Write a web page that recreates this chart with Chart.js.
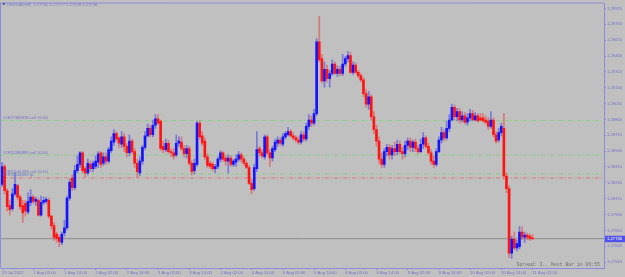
<!DOCTYPE html>
<html>
<head>
<meta charset="utf-8">
<script src="https://cdn.jsdelivr.net/npm/chart.js@4.4.1/dist/chart.umd.min.js"></script>
<style>
html, body { margin: 0; padding: 0; background: #c0c0c0; }
canvas { display: block; }
</style>
</head>
<body>
<canvas id="myChart" width="625" height="277"></canvas>
<script>
// USDCAD H1, 29 Jul 2022 14:00 .. 11 Aug 2022 02:00
const symbol = "USDCAD,H1";

const tickIndex = [0, 12, 24, 36, 48, 60, 72, 84, 96, 108, 120, 132, 144, 156, 168, 180, 192, 204];
const tickLabels = ["29 Jul 2022", "1 Aug 02:00", "1 Aug 14:00", "2 Aug 02:00", "2 Aug 14:00",
  "3 Aug 02:00", "3 Aug 14:00", "4 Aug 02:00", "4 Aug 14:00", "5 Aug 02:00", "5 Aug 14:00",
  "8 Aug 02:00", "8 Aug 14:00", "9 Aug 02:00", "9 Aug 14:00", "10 Aug 02:00", "10 Aug 14:00", "11 Aug 02:00"];

const priceTicks = [1.29915, 1.29765, 1.29615, 1.29465, 1.29315, 1.29165, 1.29015, 1.28865, 1.28715,
  1.28565, 1.28415, 1.28265, 1.28115, 1.27965, 1.27815, 1.27665, 1.27515];

const open = [
  1.2825, 1.2842, 1.2819, 1.2805, 1.2802, 1.2816, 1.2824, 1.2813, 1.2805, 1.2807,
  1.2799, 1.2808, 1.2813, 1.2809, 1.2810, 1.2796, 1.2808, 1.2809, 1.2810, 1.2795,
  1.2786, 1.2778, 1.2775, 1.2770, 1.2779, 1.2784, 1.2812, 1.2831, 1.2822, 1.2838,
  1.2844, 1.2855, 1.2840, 1.2836, 1.2844, 1.2840, 1.2842, 1.2846, 1.2855, 1.2845,
  1.2851, 1.2847, 1.2857, 1.2865, 1.2873, 1.2869, 1.2863, 1.2870, 1.2861, 1.2855,
  1.2866, 1.2856, 1.2845, 1.2836, 1.2847, 1.2860, 1.2871, 1.2878, 1.2872, 1.2881,
  1.2887, 1.2885, 1.2861, 1.2858, 1.2864, 1.2856, 1.2855, 1.2853, 1.2864, 1.2865,
  1.2859, 1.2854, 1.2859, 1.2845, 1.2838, 1.2844, 1.2883, 1.2871, 1.2866, 1.2851,
  1.2845, 1.2844, 1.2840, 1.2842, 1.2849, 1.2855, 1.2850, 1.2847, 1.2850, 1.2844,
  1.2846, 1.2849, 1.2853, 1.2849, 1.2845, 1.2841, 1.2826, 1.2821, 1.2840, 1.2859,
  1.2855, 1.2851, 1.2870, 1.2855, 1.2850, 1.2858, 1.2864, 1.2867, 1.2863, 1.2870,
  1.2872, 1.2875, 1.2871, 1.2869, 1.2867, 1.2865, 1.2872, 1.2868, 1.2880, 1.2886,
  1.2883, 1.2892, 1.2960, 1.2944, 1.2923, 1.2934, 1.2925, 1.2930, 1.2939, 1.2930,
  1.2934, 1.2930, 1.2939, 1.2944, 1.2947, 1.2931, 1.2938, 1.2931, 1.2928, 1.2924,
  1.2911, 1.2901, 1.2908, 1.2889, 1.2877, 1.2866, 1.2849, 1.2844, 1.2856, 1.2860,
  1.2853, 1.2859, 1.2856, 1.2863, 1.2856, 1.2854, 1.2862, 1.2866, 1.2860, 1.2865,
  1.2859, 1.2856, 1.2863, 1.2869, 1.2861, 1.2855, 1.2847, 1.2844, 1.2856, 1.2867,
  1.2874, 1.2869, 1.2878, 1.2886, 1.2898, 1.2889, 1.2894, 1.2886, 1.2890, 1.2884,
  1.2888, 1.2892, 1.2886, 1.2890, 1.2888, 1.2888, 1.2886, 1.2885, 1.2880, 1.2886,
  1.2872, 1.2867, 1.2874, 1.2878, 1.2833, 1.2821, 1.2760, 1.2773, 1.2765, 1.2766,
  1.2780, 1.2775, 1.2777, 1.2776, 1.27742
];
const high = [
  1.2846, 1.2844, 1.2821, 1.2810, 1.2821, 1.2836, 1.2825, 1.2815, 1.2810, 1.2810,
  1.2817, 1.2820, 1.2815, 1.2813, 1.2812, 1.2814, 1.2813, 1.2813, 1.2812, 1.2796,
  1.2789, 1.2780, 1.2777, 1.2780, 1.2791, 1.2814, 1.2830, 1.2834, 1.2843, 1.2852,
  1.2856, 1.2856, 1.2842, 1.2849, 1.2847, 1.2847, 1.2852, 1.2856, 1.2856, 1.2855,
  1.2855, 1.2860, 1.2870, 1.2877, 1.2875, 1.2870, 1.2875, 1.2873, 1.2864, 1.2872,
  1.2868, 1.2859, 1.2849, 1.2851, 1.2862, 1.2875, 1.2882, 1.2881, 1.2886, 1.2891,
  1.2891, 1.2886, 1.2866, 1.2868, 1.2867, 1.2859, 1.2859, 1.2872, 1.2870, 1.2870,
  1.2862, 1.2862, 1.2861, 1.2847, 1.2849, 1.2885, 1.2885, 1.2875, 1.2869, 1.2854,
  1.2847, 1.2846, 1.2844, 1.2851, 1.2857, 1.2856, 1.2852, 1.2853, 1.2852, 1.2849,
  1.2853, 1.2856, 1.2855, 1.2851, 1.2847, 1.2843, 1.2830, 1.2844, 1.2875, 1.2861,
  1.2858, 1.2872, 1.2872, 1.2858, 1.2861, 1.2868, 1.2870, 1.2869, 1.2873, 1.2875,
  1.2879, 1.2877, 1.2874, 1.2871, 1.2870, 1.2875, 1.2875, 1.2883, 1.2891, 1.2890,
  1.2896, 1.2963, 1.2984, 1.2948, 1.2941, 1.2938, 1.2933, 1.2943, 1.2941, 1.2937,
  1.2937, 1.2948, 1.2946, 1.2951, 1.2950, 1.2941, 1.2940, 1.2933, 1.2930, 1.2926,
  1.2915, 1.2913, 1.2910, 1.2894, 1.2881, 1.2870, 1.2855, 1.2859, 1.2863, 1.2863,
  1.2862, 1.2865, 1.2867, 1.2866, 1.2860, 1.2866, 1.2869, 1.2869, 1.2867, 1.2868,
  1.2862, 1.2868, 1.2874, 1.2871, 1.2864, 1.2858, 1.2852, 1.2859, 1.2870, 1.2879,
  1.2877, 1.2885, 1.2891, 1.2901, 1.2900, 1.2897, 1.2897, 1.2894, 1.2893, 1.2892,
  1.2896, 1.2895, 1.2893, 1.2892, 1.2892, 1.2892, 1.2890, 1.2888, 1.2894, 1.2888,
  1.2875, 1.2878, 1.2883, 1.2892, 1.2836, 1.2824, 1.2776, 1.2780, 1.2772, 1.2785,
  1.2785, 1.2780, 1.2779, 1.2778, 1.27777
];
const low = [
  1.2823, 1.2816, 1.2800, 1.2796, 1.2800, 1.2814, 1.2810, 1.2801, 1.2789, 1.2795,
  1.2797, 1.2805, 1.2807, 1.2805, 1.2795, 1.2795, 1.2806, 1.2807, 1.2793, 1.2783,
  1.2772, 1.2770, 1.2766, 1.2768, 1.2776, 1.2782, 1.2810, 1.2819, 1.2820, 1.2836,
  1.2841, 1.2836, 1.2832, 1.2834, 1.2837, 1.2837, 1.2840, 1.2841, 1.2841, 1.2843,
  1.2844, 1.2845, 1.2855, 1.2862, 1.2866, 1.2860, 1.2860, 1.2856, 1.2851, 1.2852,
  1.2854, 1.2841, 1.2832, 1.2833, 1.2844, 1.2858, 1.2870, 1.2870, 1.2870, 1.2878,
  1.2882, 1.2857, 1.2855, 1.2856, 1.2854, 1.2851, 1.2849, 1.2851, 1.2861, 1.2857,
  1.2851, 1.2850, 1.2843, 1.2834, 1.2835, 1.2842, 1.2868, 1.2862, 1.2849, 1.2841,
  1.2840, 1.2838, 1.2836, 1.2840, 1.2846, 1.2847, 1.2843, 1.2836, 1.2842, 1.2842,
  1.2842, 1.2847, 1.2846, 1.2843, 1.2840, 1.2825, 1.2816, 1.2819, 1.2837, 1.2852,
  1.2850, 1.2849, 1.2853, 1.2842, 1.2847, 1.2856, 1.2861, 1.2862, 1.2861, 1.2868,
  1.2871, 1.2870, 1.2867, 1.2865, 1.2863, 1.2863, 1.2866, 1.2866, 1.2877, 1.2880,
  1.2881, 1.2890, 1.2941, 1.2921, 1.2917, 1.2922, 1.2917, 1.2928, 1.2929, 1.2927,
  1.2928, 1.2928, 1.2937, 1.2941, 1.2930, 1.2929, 1.2930, 1.2926, 1.2922, 1.2908,
  1.2898, 1.2896, 1.2886, 1.2873, 1.2861, 1.2845, 1.2841, 1.2841, 1.2852, 1.2849,
  1.2849, 1.2852, 1.2853, 1.2854, 1.2849, 1.2851, 1.2858, 1.2856, 1.2856, 1.2856,
  1.2854, 1.2855, 1.2859, 1.2859, 1.2853, 1.2844, 1.2841, 1.2842, 1.2855, 1.2864,
  1.2866, 1.2867, 1.2875, 1.2885, 1.2886, 1.2885, 1.2883, 1.2884, 1.2882, 1.2881,
  1.2885, 1.2885, 1.2885, 1.2884, 1.2885, 1.2884, 1.2882, 1.2877, 1.2878, 1.2870,
  1.2864, 1.2865, 1.2871, 1.2830, 1.2817, 1.2756, 1.2755, 1.2763, 1.2762, 1.2764,
  1.2773, 1.2770, 1.2773, 1.2772, 1.27728
];
const close = [
  1.2842, 1.2819, 1.2804, 1.2801, 1.2816, 1.2825, 1.2813, 1.2804, 1.2798, 1.2800,
  1.2809, 1.2813, 1.2809, 1.2811, 1.2796, 1.2808, 1.2810, 1.2811, 1.2795, 1.2786,
  1.2775, 1.2774, 1.2771, 1.2778, 1.2784, 1.2812, 1.2827, 1.2822, 1.2838, 1.2844,
  1.2855, 1.2838, 1.2836, 1.2845, 1.2840, 1.2845, 1.2847, 1.2854, 1.2844, 1.2851,
  1.2847, 1.2858, 1.2866, 1.2873, 1.2868, 1.2864, 1.2870, 1.2861, 1.2855, 1.2866,
  1.2856, 1.2845, 1.2837, 1.2847, 1.2860, 1.2871, 1.2878, 1.2872, 1.2881, 1.2887,
  1.2883, 1.2859, 1.2858, 1.2864, 1.2856, 1.2855, 1.2852, 1.2864, 1.2866, 1.2859,
  1.2854, 1.2859, 1.2845, 1.2837, 1.2845, 1.2883, 1.2870, 1.2864, 1.2851, 1.2843,
  1.2842, 1.2840, 1.2842, 1.2849, 1.2855, 1.2849, 1.2847, 1.2850, 1.2844, 1.2847,
  1.2849, 1.2853, 1.2849, 1.2845, 1.2841, 1.2826, 1.2820, 1.2841, 1.2858, 1.2855,
  1.2852, 1.2870, 1.2855, 1.2850, 1.2859, 1.2865, 1.2867, 1.2864, 1.2870, 1.2873,
  1.2875, 1.2871, 1.2869, 1.2867, 1.2865, 1.2872, 1.2868, 1.2880, 1.2886, 1.2883,
  1.2892, 1.2960, 1.2943, 1.2923, 1.2934, 1.2925, 1.2930, 1.2939, 1.2930, 1.2934,
  1.2930, 1.2939, 1.2944, 1.2947, 1.2931, 1.2938, 1.2931, 1.2928, 1.2924, 1.2911,
  1.2901, 1.2908, 1.2889, 1.2877, 1.2866, 1.2849, 1.2844, 1.2856, 1.2860, 1.2853,
  1.2859, 1.2856, 1.2863, 1.2856, 1.2854, 1.2862, 1.2866, 1.2860, 1.2865, 1.2859,
  1.2856, 1.2863, 1.2869, 1.2861, 1.2855, 1.2847, 1.2844, 1.2856, 1.2867, 1.2874,
  1.2869, 1.2878, 1.2886, 1.2898, 1.2889, 1.2894, 1.2886, 1.2890, 1.2884, 1.2888,
  1.2892, 1.2886, 1.2890, 1.2885, 1.2886, 1.2885, 1.2884, 1.2880, 1.2886, 1.2872,
  1.2866, 1.2874, 1.2880, 1.2833, 1.2821, 1.2760, 1.2773, 1.2765, 1.2769, 1.2780,
  1.2775, 1.2777, 1.2775, 1.2774, 1.27736
];

// open orders / levels
const orderPrices = [1.28855, 1.28527, 1.28349, 1.28312];
const orderLabels = ["#2877389618 sell 10.00", "#2870288889 sell 10.00", "#2870144409 sell 10.00", "#2870144409 tp"];
const bid = close[close.length - 1];
const spreadText = "Spread: 3.. Next Bar in 06:55";

// view window
const xMin = -0.385, xMax = 231.5;
const yMin = 1.27459, yMax = 1.29962;

const axisColor = "#8c8cdc";
const textColor = "#7474cc";
const bullColor = "#1414ff";
const bearColor = "#ff1414";

const isUp = (i) => close[i] >= open[i];

const bodies = open.map((o, i) => ({ x: i, y: [o, close[i]] }));
const wicks = open.map((o, i) => ({ x: i, y: [low[i], high[i]] }));

const levelLine = (p, color) => ({
  type: "line",
  data: [{ x: xMin, y: p }, { x: xMax, y: p }],
  borderColor: color,
  borderWidth: 1,
  borderDash: [4, 2, 1, 2],
  pointRadius: 0,
  order: 5,
});

const orderColors = ["#86d086", "#86d086", "#86d086", "#e07676"];

const datasets = [
  {
    type: "bar",
    data: wicks,
    grouped: false,
    barThickness: 1,
    order: 2,
    backgroundColor: (c) => (isUp(c.dataIndex) ? "rgba(30,30,255,0.45)" : "rgba(255,30,30,0.45)"),
  },
  {
    type: "bar",
    data: bodies,
    grouped: false,
    barThickness: 2,
    minBarLength: 1,
    order: 1,
    backgroundColor: (c) => (isUp(c.dataIndex) ? bullColor : bearColor),
  },
  ...orderPrices.map((p, i) => levelLine(p, orderColors[i])),
  {
    type: "line",
    data: [{ x: xMin, y: bid }, { x: xMax, y: bid }],
    borderColor: "#8e8e8e",
    borderWidth: 1,
    pointRadius: 0,
    order: 6,
  },
];

const overlay = {
  id: "overlay",
  afterDraw(chart) {
    const { ctx, chartArea: a, scales } = chart;
    const y = scales.y;
    ctx.save();

    // frame top and left
    ctx.strokeStyle = axisColor;
    ctx.lineWidth = 1;
    ctx.beginPath();
    ctx.moveTo(a.left - 0.5, a.bottom);
    ctx.lineTo(a.left - 0.5, a.top - 0.5);
    ctx.lineTo(a.right, a.top - 0.5);
    ctx.stroke();

    // header
    ctx.fillStyle = "#55559a";
    ctx.beginPath();
    ctx.moveTo(2, 3);
    ctx.lineTo(5.5, 3);
    ctx.lineTo(3.75, 5.5);
    ctx.closePath();
    ctx.fill();
    ctx.font = '4.2px "Liberation Sans"';
    ctx.fillStyle = textColor;
    ctx.textBaseline = "middle";
    ctx.textAlign = "left";
    const hdr = symbol + "  " + [open, high, low, close].map((s) => s[s.length - 1].toFixed(5)).join(" ");
    ctx.fillText(hdr, 7, 4.5);

    // order labels
    ctx.textBaseline = "bottom";
    orderPrices.forEach((p, i) => {
      ctx.fillText(orderLabels[i], a.left + 2, y.getPixelForValue(p) - 0.5);
    });

    // bid box on price axis
    const py = y.getPixelForValue(bid);
    ctx.fillStyle = "#5252ea";
    ctx.fillRect(a.right + 1, py - 3, 21, 6.5);
    ctx.fillStyle = "#ffffff";
    ctx.textBaseline = "middle";
    ctx.fillText(bid.toFixed(5), a.right + 3, py + 0.3);

    // spread info
    ctx.font = '4.8px "Liberation Mono"';
    ctx.fillStyle = "#707070";
    ctx.textAlign = "right";
    ctx.textBaseline = "bottom";
    ctx.fillText(spreadText, a.right - 4, a.bottom - 0.5);

    ctx.restore();
  },
};

new Chart(document.getElementById("myChart"), {
  type: "bar",
  data: { datasets },
  plugins: [overlay],
  options: {
    responsive: false,
    animation: false,
    devicePixelRatio: 1,
    layout: { padding: { top: 1, left: 1, right: 0, bottom: 0 } },
    plugins: { legend: { display: false }, tooltip: { enabled: false } },
    scales: {
      x: {
        type: "linear",
        offset: false,
        min: xMin,
        max: xMax,
        afterBuildTicks: (s) => { s.ticks = tickIndex.map((v) => ({ value: v })); },
        afterFit: (s) => { s.height = 9; },
        grid: { offset: false, drawOnChartArea: false, drawTicks: true, tickLength: 2, color: axisColor },
        border: { display: true, color: axisColor },
        ticks: {
          align: "start",
          autoSkip: false,
          maxRotation: 0,
          padding: 0,
          color: textColor,
          font: { size: 4.2, family: "Liberation Sans" },
          callback: (v, i) => tickLabels[i],
        },
      },
      y: {
        type: "linear",
        position: "right",
        min: yMin,
        max: yMax,
        afterBuildTicks: (s) => { s.ticks = priceTicks.map((v) => ({ value: v })); },
        afterFit: (s) => { s.width = 21; },
        grid: { drawOnChartArea: false, drawTicks: true, tickLength: 2, color: axisColor },
        border: { display: true, color: axisColor },
        ticks: {
          padding: 1,
          color: textColor,
          font: { size: 4.2, family: "Liberation Sans" },
          callback: (v) => Number(v).toFixed(5),
        },
      },
    },
  },
});
</script>
</body>
</html>
